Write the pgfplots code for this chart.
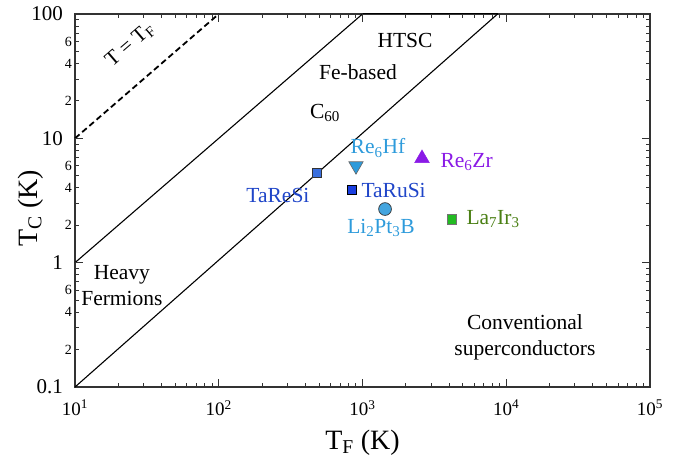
\documentclass[border=0pt]{standalone}
\usepackage{pgfplots}
\pgfplotsset{compat=1.18}
\usepackage{fontspec}
\setmainfont{Liberation Serif}
\definecolor{cblue}{HTML}{1F45C8}
\definecolor{clight}{HTML}{2E9BDB}
\definecolor{cpurple}{HTML}{8A1AE6}
\definecolor{cgreen}{HTML}{22BB22}
\definecolor{cgreentext}{HTML}{4A7F14}
\definecolor{csq}{HTML}{3A6FDD}
\definecolor{cmark}{HTML}{1A3FE0}
\tikzset{tk/.style={black!80, line width=1pt}}
\begin{document}
\begin{tikzpicture}
\begin{axis}[
  xmode=log, ymode=log,
  scale only axis,
  width=575pt, height=373pt,
  xmin=10, xmax=100000, ymin=0.1, ymax=100,
  axis line style={line width=1.3pt, black!80},
  tick style={draw=black!80, line width=1pt},
  tickwidth=8pt, subtickwidth=4.5pt,
  tick align=inside,
  xtick pos=both, ytick pos=both,
  xtick={10,100,1000,10000,100000},
  xticklabels={10\textsuperscript{1},10\textsuperscript{2},10\textsuperscript{3},10\textsuperscript{4},10\textsuperscript{5}},
  ytick={0.1,1,10,100},
  yticklabels={0.1,1,10,100},
  extra y ticks={0.2,0.4,0.6,2,4,6,20,40,60},
  extra y tick labels={2,4,6,2,4,6,2,4,6},
  extra y tick style={tickwidth=4.5pt, yticklabel style={font=\fontsize{14}{16}\selectfont, xshift=9pt}},
  xticklabel style={font=\fontsize{19}{21}\selectfont, inner sep=0pt, anchor=north, yshift=-13pt},
  yticklabel style={font=\fontsize{21}{23}\selectfont, inner sep=0pt, anchor=east, xshift=-12pt},
  clip=false,
]
\coordinate (bl) at (rel axis cs:0,0);
\coordinate (tr) at (rel axis cs:1,1);
\coordinate (xl) at (rel axis cs:0.5,0);
\coordinate (yl) at (rel axis cs:0,0.48);
% boundary lines
\addplot[black, line width=1.1pt] coordinates {(10,1) (1000,100)};
\addplot[black, line width=1.1pt] coordinates {(10,0.1) (8700,100)};
\addplot[black, line width=0.9pt] coordinates {(1000,100.9) (8700,100.9)};
\addplot[black, line width=1.8pt, dash pattern=on 6pt off 3.5pt] coordinates {(10,10) (100,100)};
% data
\addplot[only marks, mark=square*, mark size=4.9pt, mark options={fill=csq, draw=black!80, line width=0.9pt}] coordinates {(482,5.26)};
\addplot[only marks, mark=triangle*, mark size=8.3pt, mark options={rotate=180, fill=clight, draw=black!60, line width=0.6pt}] coordinates {(901,6.0)};
\addplot[only marks, mark=square*, mark size=4.6pt, mark options={fill=cmark, draw=black, line width=0.9pt}] coordinates {(845,3.84)};
\addplot[only marks, mark=*, mark size=6.4pt, mark options={fill=clight!90!white, draw=black!80, line width=0.7pt}] coordinates {(1435,2.70)};
\addplot[only marks, mark=triangle*, mark size=8.5pt, mark options={fill=cpurple, draw=cpurple}] coordinates {(2594,6.9)};
\addplot[only marks, mark=square*, mark size=4.9pt, mark options={fill=cgreen, draw=black!55, line width=0.9pt}] coordinates {(4197,2.24)};
% labels
\node[rotate=40.8, font=\fontsize{21}{23}\selectfont] at (axis cs:24.2,56.3) {T = T\textsubscript{F}};
\node[font=\fontsize{21.5}{23}\selectfont] at (axis cs:1977,61.8) {HTSC};
\node[font=\fontsize{21.5}{23}\selectfont] at (axis cs:931,34.2) {Fe-based};
\node[font=\fontsize{21.5}{23}\selectfont] at (axis cs:548,16.0) {C\textsubscript{60}};
\node[font=\fontsize{21.5}{26}\selectfont, align=center, inner sep=0pt] at (axis cs:21.2,0.66) {Heavy\\Fermions};
\node[font=\fontsize{21.5}{26}\selectfont, align=center, inner sep=0pt] at (axis cs:13490,0.252) {Conventional\\superconductors};
\node[font=\fontsize{21.5}{23}\selectfont, text=clight] at (axis cs:1282,8.36) {Re\textsubscript{6}Hf};
\node[font=\fontsize{21.5}{23}\selectfont, text=cpurple, anchor=west] at (axis cs:3300,6.44) {Re\textsubscript{6}Zr};
\node[font=\fontsize{21.5}{23}\selectfont, text=cblue] at (axis cs:258,3.50) {TaReSi};
\node[font=\fontsize{21.5}{23}\selectfont, text=cblue, anchor=west] at (axis cs:930,3.84) {TaRuSi};
\node[font=\fontsize{21.5}{23}\selectfont, text=clight] at (axis cs:1345,1.90) {Li\textsubscript{2}Pt\textsubscript{3}B};
\node[font=\fontsize{21.5}{23}\selectfont, text=cgreentext, anchor=west] at (axis cs:5000,2.24) {La\textsubscript{7}Ir\textsubscript{3}};
\end{axis}
% tick marks along the frame (axis is 575pt x 373pt; 4 x-decades, 3 y-decades)
\begin{scope}[shift={(bl)}]
\foreach \d in {0,1,2,3}{
  \foreach \m in {2,3,4,5,6,7,8,9}{
    \pgfmathsetmacro\xx{143.75*(\d+ln(\m)/ln(10))}
    \draw[tk] (\xx pt,0pt) -- (\xx pt,4.5pt);
    \draw[tk] (\xx pt,373pt) -- (\xx pt,368.5pt);
  }
}
\foreach \d in {1,2,3}{
  \pgfmathsetmacro\xx{143.75*\d}
  \draw[tk] (\xx pt,0pt) -- (\xx pt,8pt);
  \draw[tk] (\xx pt,373pt) -- (\xx pt,365pt);
}
\foreach \d in {0,1,2}{
  \foreach \m in {2,3,4,5,6,7,8,9}{
    \pgfmathsetmacro\yy{124.3333*(\d+ln(\m)/ln(10))}
    \draw[tk] (0pt,\yy pt) -- (4.5pt,\yy pt);
    \draw[tk] (575pt,\yy pt) -- (570.5pt,\yy pt);
  }
}
\foreach \d in {1,2}{
  \pgfmathsetmacro\yy{124.3333*\d}
  \draw[tk] (0pt,\yy pt) -- (8pt,\yy pt);
  \draw[tk] (575pt,\yy pt) -- (567pt,\yy pt);
}
\end{scope}
% axis labels
\node[font=\fontsize{28}{30}\selectfont, anchor=base] at ([yshift=-62pt]xl) {T\textsubscript{F} (K)};
\node[font=\fontsize{28}{30}\selectfont, rotate=90, anchor=base] at ([xshift=-38pt]yl) {T\textsubscript{C} (K)};
\pgfresetboundingbox
\path ([xshift=-75pt,yshift=-77pt]bl) rectangle ([xshift=31pt,yshift=14pt]tr);
\end{tikzpicture}
\end{document}
